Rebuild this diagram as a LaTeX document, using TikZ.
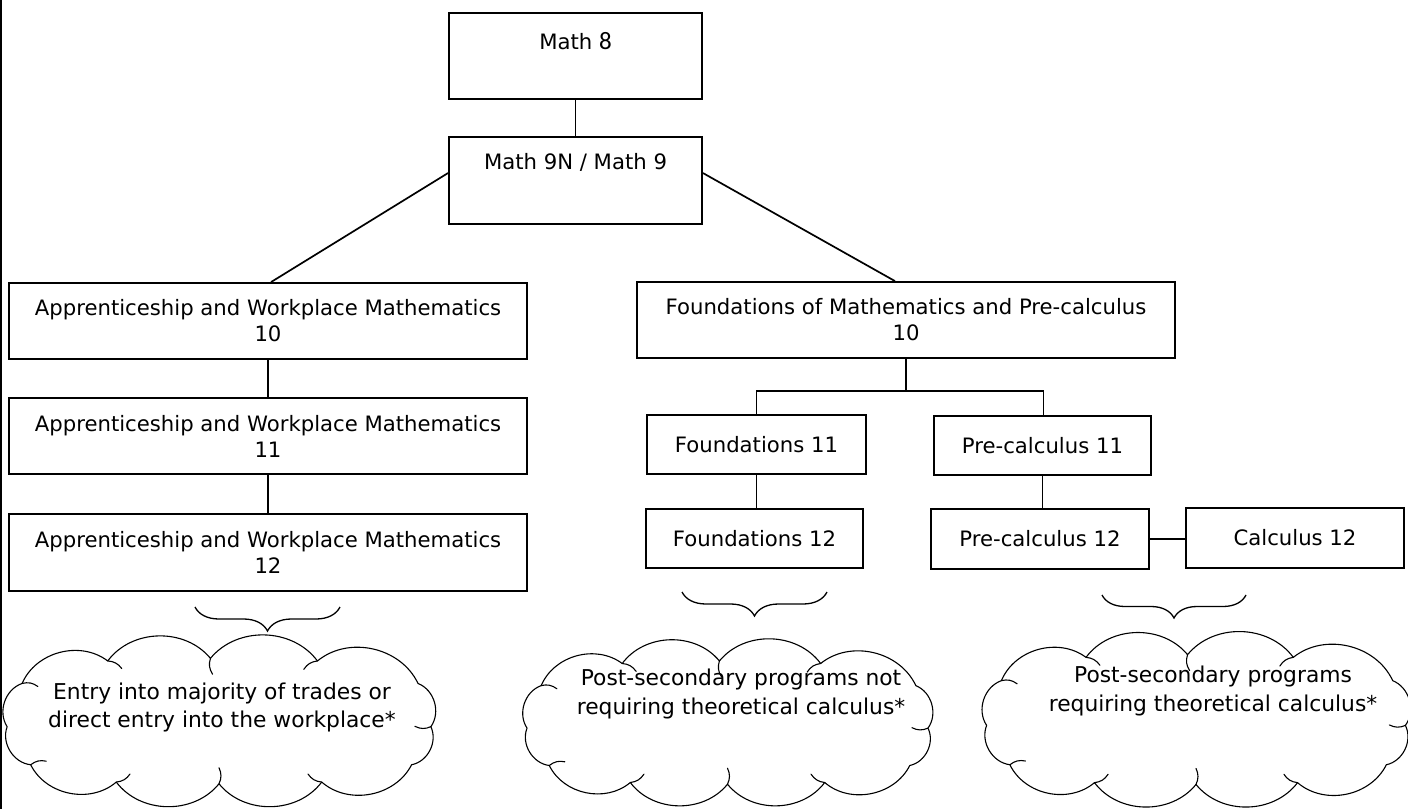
\documentclass[tikz,border=0pt]{standalone}
\usepackage{fontspec}
\setmainfont{DejaVu Sans}
\newfontfamily\calfont{Carlito}
\usetikzlibrary{decorations.pathreplacing,calc}
\newcommand\drawcloud[3]{%
  \begin{scope}[shift={#1}]
  \def\chw{#2}\def\chh{#3}%
  \draw[cloudline]
    ({-0.99*\chw},{0.06*\chh}) to[bend left=52] ({-0.92*\chw},{-0.44*\chh})
    to[bend left=52] ({-0.52*\chw},{-0.70*\chh})
    to[bend left=52] ({-0.04*\chw},{-0.73*\chh})
    to[bend left=52] ({0.46*\chw},{-0.70*\chh})
    to[bend left=52] ({0.93*\chw},{-0.44*\chh})
    to[bend left=52] ({0.99*\chw},{0.06*\chh})
    to[bend left=52] ({0.90*\chw},{0.50*\chh})
    to[bend left=52] ({0.48*\chw},{0.70*\chh})
    to[bend left=52] ({0.0*\chw},{0.72*\chh})
    to[bend left=52] ({-0.48*\chw},{0.70*\chh})
    to[bend left=52] ({-0.88*\chw},{0.50*\chh})
    to[bend left=52] ({-0.99*\chw},{0.06*\chh});
  \foreach \a/\b/\s in {-0.92/-0.44/1,-0.52/-0.70/1,-0.04/-0.73/-1,0.46/-0.70/-1,0.99/0.06/1,0.48/0.70/1,0.0/0.72/-1,-0.48/0.70/-1,-0.88/0.50/1}
    \draw[cloudline] ({\a*\chw},{\b*\chh}) to[bend left=\s*25] ($({\a*\chw},{\b*\chh})!16pt!(0,0)$);
  \end{scope}}
\begin{document}
\begin{tikzpicture}[x=1pt,y=-1pt,
  box/.style={draw,line width=1.8pt,rectangle,inner sep=0pt,align=center,
    font=\fontsize{21.2}{26}\selectfont},
  lbl/.style={anchor=north,inner sep=0pt,font=\fontsize{21.2}{26}\selectfont},
  link/.style={line width=1.7pt},
  brc/.style={line width=1.3pt,decorate,decoration={brace,amplitude=#1}},
  cloudline/.style={line width=1.1pt,line join=round,line cap=round},
  cloudtext/.style={align=center,inner sep=0pt,font=\fontsize{21.8}{28.5}\selectfont}]

\useasboundingbox (0,0) rectangle (1408,809);
\draw[link] (1,0) -- (1,809);

% top boxes
\node[box,minimum width=253pt,minimum height=86pt,
  label={[lbl,name=m8t,yshift=-20pt]north:Math {\calfont\fontsize{25}{26}\selectfont 8}}] (m8) at (575.5,56) {};
\node[box,minimum width=253pt,minimum height=87pt,
  label={[lbl,name=m9t,yshift=-17pt]north:Math 9N / Math 9}] (m9) at (575.5,180.5) {};

% left column
\node[box,minimum width=518pt,minimum height=76pt] (awm10) at (268,321) {Apprenticeship and Workplace Mathematics\\10};
\node[box,minimum width=518pt,minimum height=76pt] (awm11) at (268,436) {Apprenticeship and Workplace Mathematics\\11};
\node[box,minimum width=518pt,minimum height=77pt] (awm12) at (268,552.5) {Apprenticeship and Workplace Mathematics\\12};

% right part
\node[box,minimum width=538pt,minimum height=76pt] (fmp10) at (906,320) {Foundations of Mathematics and Pre-calculus\\10};
\node[box,minimum width=219pt,minimum height=59pt] (f11) at (756.5,444.5) {Foundations 11};
\node[box,minimum width=217pt,minimum height=59pt] (pc11) at (1042.5,445.5) {Pre-calculus 11};
\node[box,minimum width=217pt,minimum height=59pt] (f12) at (754.5,538.5) {Foundations 12};
\node[box,minimum width=218pt,minimum height=60pt] (pc12) at (1040,539) {Pre-calculus 12};
\node[box,minimum width=218pt,minimum height=60pt] (calc12) at (1295,538) {Calculus 12};

% connectors
\draw[link] (m8.south) -- (m9.north);
\draw[link] ([yshift=7.5pt]m9.west) -- ([xshift=3pt]awm10.north);
\draw[link] ([yshift=7.5pt]m9.east) -- ([xshift=-11pt]fmp10.north);
\draw[link] (awm10.south) -- (awm11.north);
\draw[link] (awm11.south) -- (awm12.north);
\coordinate (split) at (907,391);
\draw[link] (fmp10.south) -- (fmp10.south |- split);
\draw[link] (f11.north) |- ([xshift=1pt]pc11.north |- split) -- ([xshift=1pt]pc11.north);
\draw[link] (f11.south) -- (f11.south |- f12.north);
\draw[link] (pc11.south) -- (pc11.south |- pc12.north);
\draw[link] (pc12.east) -- (calc12.west |- pc12.east);

% braces
\coordinate (b1r) at (340,607); \coordinate (b1l) at (195,607);
\coordinate (b2r) at (827,592); \coordinate (b2l) at (682,592);
\coordinate (b3r) at (1246,595); \coordinate (b3l) at (1102,595);
\draw[brc=24pt] (b1r) -- (b1l);
\draw[brc=24pt] (b2r) -- (b2l);
\draw[brc=23pt] (b3r) -- (b3l);

% clouds
\drawcloud{(219,721.5)}{214}{86.5}
\node[cloudtext] (c1t) at (222,707.5) {Entry into majority of trades or\\direct entry into the workplace*};
\drawcloud{(727.5,723)}{202.5}{85}
\node[cloudtext] (c2t) at (741,694) {Post-secondary programs not\\requiring theoretical calculus*};
\drawcloud{(1196,720)}{211.5}{89.5}
\node[cloudtext] (c3t) at (1213,691) {Post-secondary programs\\requiring theoretical calculus*};
\end{tikzpicture}
\end{document}
